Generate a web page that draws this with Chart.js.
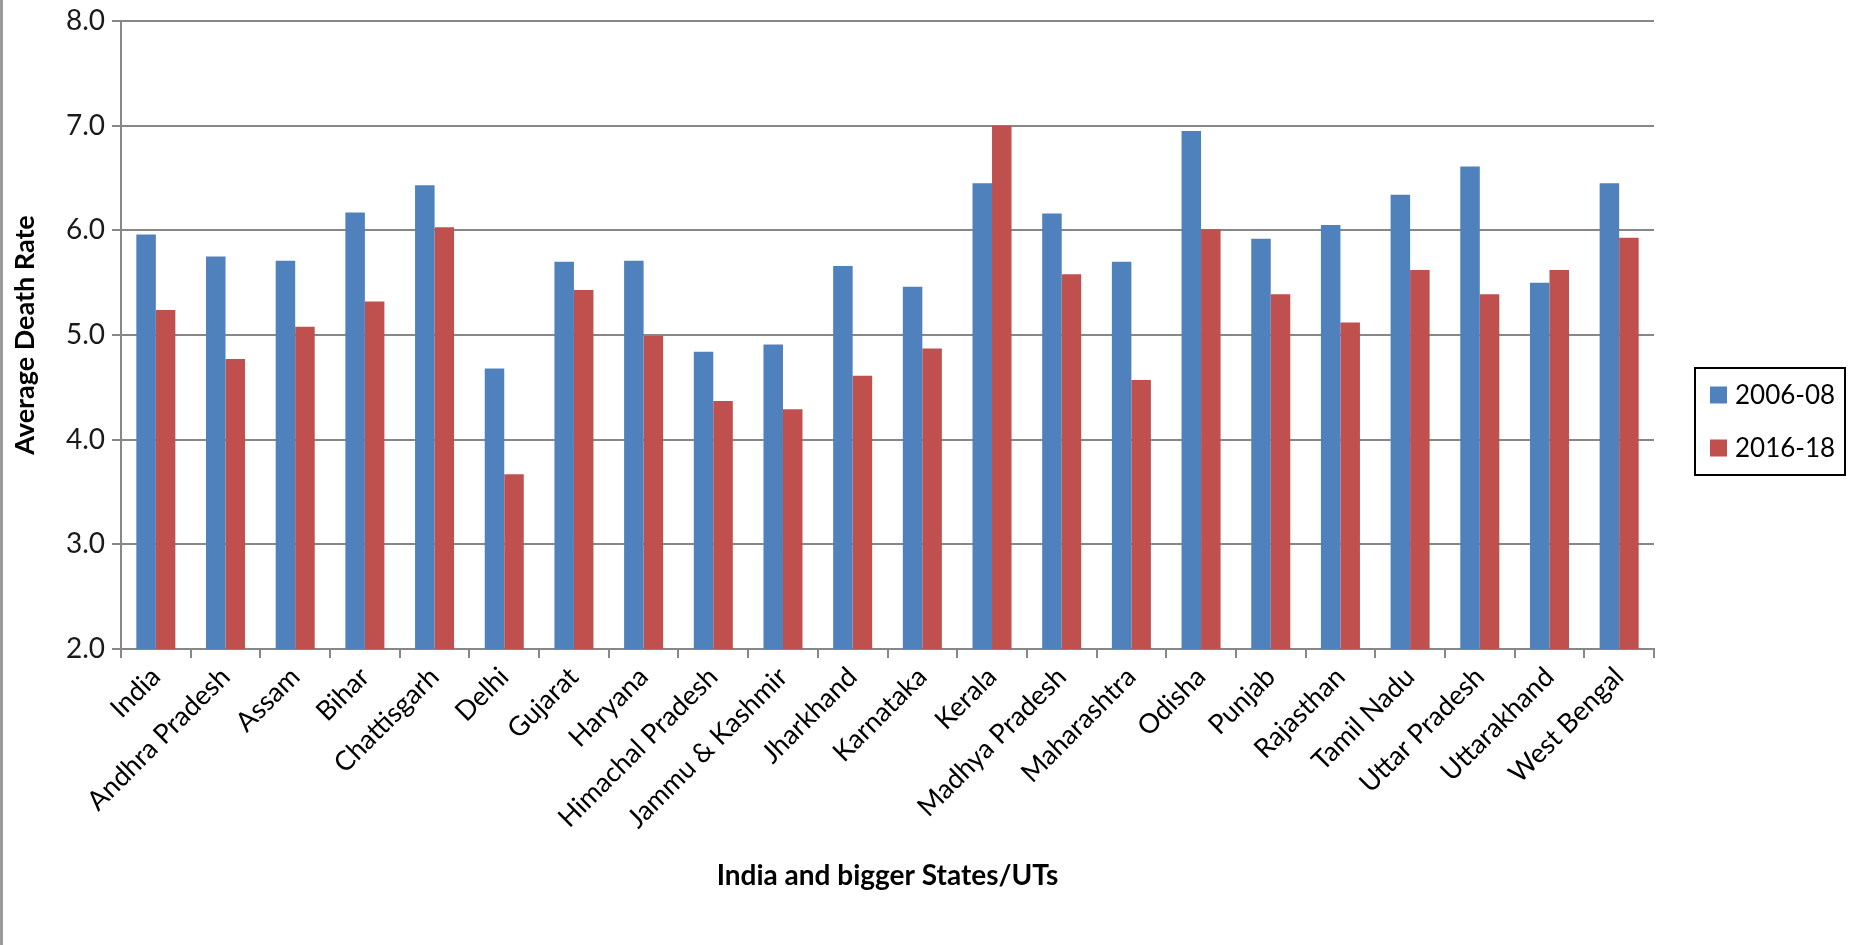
<!DOCTYPE html>
<html>
<head>
<meta charset="utf-8">
<script src="https://cdn.jsdelivr.net/npm/chart.js@4.4.1/dist/chart.umd.min.js"></script>
<style>
html,body{margin:0;padding:0;background:#fff;overflow:hidden}
#wrap{position:relative;width:1855px;height:945px}
#edge{position:absolute;left:0;top:0;width:3px;height:945px;background:#9a9a9a}
</style>
</head>
<body>
<div id="wrap"><canvas id="c" width="1855" height="945"></canvas><div id="edge"></div></div>
<script>
const categories = ['India','Andhra Pradesh','Assam','Bihar','Chattisgarh','Delhi','Gujarat','Haryana',
  'Himachal Pradesh','Jammu & Kashmir','Jharkhand','Karnataka','Kerala','Madhya Pradesh','Maharashtra',
  'Odisha','Punjab','Rajasthan','Tamil Nadu','Uttar Pradesh','Uttarakhand','West Bengal'];
const rate2006_08 = [5.96,5.75,5.71,6.17,6.43,4.68,5.70,5.71,4.84,4.91,5.66,5.46,6.45,6.16,5.70,6.95,5.92,6.05,6.34,6.61,5.50,6.45];
const rate2016_18 = [5.24,4.77,5.08,5.32,6.03,3.67,5.43,4.99,4.37,4.29,4.61,4.87,7.00,5.58,4.57,6.01,5.39,5.12,5.62,5.39,5.62,5.93];
const seriesLabels = ['2006-08','2016-18'];
const seriesColors = ['#4F81BD','#C0504D'];
const yMin = 2, yMax = 8, yStep = 1;
const xTitle = 'India and bigger States/UTs';
const yTitle = 'Average Death Rate';

const FONT = 'Lato, "DejaVu Sans", sans-serif';
const GRID = '#878787';

const boxLegend = {
  id: 'boxLegend',
  afterDraw(chart) {
    const ctx = chart.ctx;
    ctx.save();
    ctx.strokeStyle = '#000';
    ctx.lineWidth = 2;
    ctx.strokeRect(1695, 368, 150, 107);
    ctx.font = '26px ' + FONT;
    ctx.textBaseline = 'middle';
    ctx.textAlign = 'left';
    const ys = [395, 448];
    chart.data.datasets.forEach((ds, i) => {
      ctx.fillStyle = ds.backgroundColor;
      ctx.fillRect(1710, ys[i] - 8.5, 17, 17);
      ctx.fillStyle = '#000';
      ctx.fillText(ds.label, 1735, ys[i] + 1);
    });
    ctx.restore();
  }
};

new Chart(document.getElementById('c'), {
  type: 'bar',
  data: {
    labels: categories,
    datasets: [
      {label: seriesLabels[0], data: rate2006_08, backgroundColor: seriesColors[0], borderWidth: 0},
      {label: seriesLabels[1], data: rate2016_18, backgroundColor: seriesColors[1], borderWidth: 0}
    ]
  },
  options: {
    responsive: false,
    animation: false,
    devicePixelRatio: 1,
    layout: {padding: {left: 7, top: 18, right: 201, bottom: 50}},
    datasets: {bar: {categoryPercentage: 0.56, barPercentage: 1.0}},
    plugins: {legend: {display: false}, tooltip: {enabled: false}},
    scales: {
      x: {
        afterFit(s) { s.height = 246; },
        grid: {drawOnChartArea: false, offset: true, color: GRID, lineWidth: 2, tickLength: 9, tickColor: GRID},
        border: {color: GRID, width: 2},
        ticks: {autoSkip: false, maxRotation: 45, minRotation: 45, font: {family: FONT, size: 27}, color: '#000', padding: 3},
        title: {display: true, text: xTitle, font: {family: FONT, size: 28, weight: 'bold'}, color: '#000', padding: {top: 4, bottom: 2}}
      },
      y: {
        min: yMin, max: yMax,
        afterFit(s) { s.width = 114; },
        grid: {color: GRID, lineWidth: 2, tickLength: 9, tickColor: GRID},
        border: {color: GRID, width: 2},
        ticks: {stepSize: yStep, callback: v => Number(v).toFixed(1), font: {family: FONT, size: 28, lineHeight: 1.0}, color: '#1a1a1a', padding: 7},
        title: {display: true, text: yTitle, font: {family: FONT, size: 27, weight: 'bold'}, color: '#000', padding: {top: 2, bottom: 4}}
      }
    }
  },
  plugins: [boxLegend]
});
</script>
</body>
</html>
